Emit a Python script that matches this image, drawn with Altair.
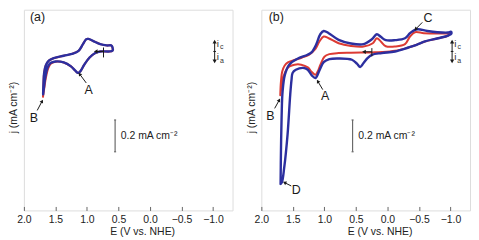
import altair as alt
import pandas as pd

FONT = "Liberation Sans"

# ---------------- data (E in V vs. NHE, j in mA cm^-2) ----------------
a_blue_E = [1.695, 1.690, 1.679, 1.653, 1.605, 1.526, 1.368, 1.237, 1.132, 1.063, 1.011, 0.974, 0.905,
            0.789, 0.684, 0.616, 0.595, 0.595, 0.658, 0.789, 0.868, 0.958, 1.042, 1.105, 1.142, 1.184,
            1.253, 1.368, 1.500, 1.579, 1.621, 1.658, 1.684, 1.695]
a_blue_j = [-0.270, -0.208, -0.135, -0.088, -0.058, -0.042, -0.027, -0.015, 0.004, 0.046, 0.077, 0.079, 0.067,
            0.046, 0.038, 0.038, 0.027, 0.004, 0.000, 0.000, -0.010, -0.038, -0.083, -0.125, -0.135, -0.121,
            -0.094, -0.069, -0.063, -0.073, -0.098, -0.156, -0.233, -0.270]

a_red_E = [1.697, 1.690, 1.679, 1.653, 1.605, 1.526, 1.368, 1.237, 1.132, 1.063, 1.011, 0.974, 0.905,
           0.789, 0.684, 0.616, 0.597, 0.597, 0.658, 0.789, 0.868, 0.958, 1.042, 1.105, 1.142, 1.184,
           1.253, 1.368, 1.500, 1.574, 1.612, 1.650, 1.680, 1.697]
a_red_j = [-0.285, -0.208, -0.135, -0.088, -0.058, -0.042, -0.027, -0.015, 0.004, 0.046, 0.077, 0.079, 0.067,
           0.046, 0.038, 0.038, 0.027, 0.004, 0.000, 0.000, -0.010, -0.038, -0.083, -0.125, -0.135, -0.121,
           -0.094, -0.069, -0.065, -0.077, -0.104, -0.163, -0.240, -0.285]

b_blue_E = [1.695, 1.689, 1.679, 1.663, 1.626, 1.558, 1.426, 1.268, 1.200, 1.132, 1.063, 1.011, 0.932,
            0.774, 0.579, 0.379, 0.247, 0.168, 0.105, 0.026, -0.121, -0.279, -0.358, -0.421, -0.484,
            -0.632, -0.789, -0.963, -1.005, -1.016, -0.963, -0.805, -0.595, -0.463, -0.332, -0.121,
            0.089, 0.247, 0.316, 0.379, 0.432, 0.484, 0.563, 0.774, 0.921, 1.011, 1.079, 1.142, 1.200,
            1.263, 1.321, 1.453, 1.505, 1.521, 1.542, 1.584, 1.637, 1.674, 1.695]
b_blue_j = [-0.833, -0.625, -0.417, -0.250, -0.146, -0.083, -0.046, -0.021, -0.004, 0.042, 0.110, 0.129, 0.115,
            0.073, 0.050, 0.046, 0.077, 0.108, 0.092, 0.071, 0.071, 0.083, 0.115, 0.133, 0.140,
            0.129, 0.121, 0.119, 0.125, 0.113, 0.100, 0.083, 0.063, 0.042, 0.025, 0.000,
            -0.010, -0.021, -0.042, -0.073, -0.098, -0.077, -0.052, -0.044, -0.048, -0.067, -0.119, -0.167, -0.150,
            -0.115, -0.104, -0.115, -0.135, -0.177, -0.271, -0.521, -0.729, -0.823, -0.833]

b_red_E = [1.700, 1.689, 1.668, 1.632, 1.579, 1.474, 1.353, 1.247, 1.142, 1.079, 1.011, 0.932, 0.774,
           0.579, 0.379, 0.232, 0.168, 0.105, 0.026, -0.121, -0.279, -0.358, -0.437, -0.579, -0.789,
           -0.963, -1.000, -0.963, -0.805, -0.595, -0.463, -0.332, -0.121, 0.089, 0.247, 0.579, 0.774,
           0.921, 1.000, 1.063, 1.105, 1.142, 1.200, 1.263, 1.368, 1.474, 1.553, 1.605, 1.647, 1.679, 1.700]
b_red_j = [-0.275, -0.188, -0.125, -0.090, -0.069, -0.054, -0.038, -0.021, 0.017, 0.063, 0.094, 0.083, 0.052,
           0.035, 0.031, 0.052, 0.083, 0.063, 0.033, 0.031, 0.046, 0.094, 0.121, 0.115, 0.113,
           0.115, 0.119, 0.100, 0.083, 0.063, 0.042, 0.025, 0.004, -0.004, -0.006, -0.008, -0.010,
           -0.017, -0.033, -0.083, -0.125, -0.146, -0.129, -0.100, -0.083, -0.083, -0.094, -0.115, -0.156, -0.219, -0.275]

x_ticks = [2.0, 1.5, 1.0, 0.5, 0.0, -0.5, -1.0]
x_domain = [-1.31, 2.0]
y_domain = [-1.0, 0.2625]

# annotations
a_labels = ["(a)", "A", "B"]
a_label_E = [1.784, 0.974, 1.842]
a_label_j = [0.219, -0.240, -0.417]
a_tail_E = [1.011, 1.789]
a_tail_j = [-0.198, -0.371]
a_head_E = [1.116, 1.711]
a_head_j = [-0.142, -0.3125]
a_angle = [323.5, 28.0]
a_scan = dict(tick_E=0.737, head_E=0.860, j=0.0, top=0.025, bot=-0.0375)

b_labels = ["(b)", "A", "B", "C", "D"]
b_label_E = [1.763, 0.989, 1.858, -0.642, 1.447]
b_label_j = [0.219, -0.281, -0.406, 0.208, -0.869]
b_tail_E = [1.026, 1.789, -0.553, 1.526]
b_tail_j = [-0.240, -0.358, 0.183, -0.846]
b_head_E = [1.105, 1.716, -0.447, 1.632]
b_head_j = [-0.1875, -0.306, 0.140, -0.825]
b_angle = [329.0, 29.0, 223.6, 296.6]
b_scan = dict(tick_E=0.247, head_E=0.372, j=-0.002, top=0.021, bot=-0.031)

scale_E = 0.553
scale_top = -0.431
scale_bot = -0.631
scale_cap = 0.016
scale_text = "0.2 mA cm⁻²"
scale_text_E = 0.463
scale_text_j = -0.531

ind_E = -1.026
ind_top = 0.062
ind_bot = -0.062
ind_cap = 0.021
ind_i_E = -1.079
ind_sub_E = -1.140
ind_i_j = [0.044, -0.038]
ind_sub_j = [0.028, -0.058]
ind_sub = ["c", "a"]

BLUE = "#2c2f9f"
RED = "#dc3b34"
INK = "#1a1a1a"

xscale = alt.Scale(domain=x_domain, reverse=True, nice=False, zero=False)
yscale = alt.Scale(domain=y_domain, nice=False, zero=False)
xaxis = alt.Axis(values=x_ticks, format=".1f", title="E (V vs. NHE)", offset=-4, tickSize=4,
                 labelPadding=4, domain=False, grid=False, tickColor="#666", tickWidth=1,
                 labelColor="#222", labelFont=FONT, labelFontSize=10.5, labelFlush=False,
                 labelOverlap=False, titleFont=FONT, titleFontSize=10.5, titleFontWeight="normal",
                 titleColor="#222", titlePadding=2, titleX=119)
yaxis = alt.Axis(title="j (mA cm⁻²)", labels=False, ticks=False, domain=False, grid=False,
                 titleFont=FONT, titleFontSize=10.5, titleFontWeight="normal", titleColor="#222",
                 titlePadding=5, titleY=98)


def X(f):
    return alt.X(f"{f}:Q", scale=xscale, axis=xaxis)


def Y(f):
    return alt.Y(f"{f}:Q", scale=yscale, axis=yaxis)


def curve(E, j, color, width):
    df = pd.DataFrame({"E": E, "j": j, "k": list(range(len(E)))})
    return alt.Chart(df).mark_line(color=color, strokeWidth=width, interpolate="catmull-rom",
                                   strokeJoin="round", strokeCap="round").encode(
        x=X("E"), y=Y("j"), order="k:Q")


def panel(blue_E, blue_j, red_E, red_j, labels, lab_E, lab_j, tail_E, tail_j, head_E, head_j, ang, scan):
    layers = [curve(red_E, red_j, RED, 2.0), curve(blue_E, blue_j, BLUE, 2.4)]

    lab_df = pd.DataFrame({"E": lab_E, "j": lab_j, "t": labels})
    layers.append(alt.Chart(lab_df).mark_text(font=FONT, fontSize=12.5, color=INK, align="center",
                                              baseline="middle").encode(x=X("E"), y=Y("j"), text="t:N"))

    arr_df = pd.DataFrame({"E": tail_E, "j": tail_j, "E2": head_E, "j2": head_j, "ang": ang})
    layers.append(alt.Chart(arr_df).mark_rule(color=INK, strokeWidth=1).encode(
        x=X("E"), y=Y("j"), x2="E2:Q", y2="j2:Q"))
    layers.append(alt.Chart(arr_df).mark_point(shape="triangle-up", filled=True, size=16, color=INK,
                                               opacity=1).encode(
        x=X("E2"), y=Y("j2"), angle=alt.Angle("ang:Q", scale=None)))

    # scan direction arrow
    scan_df = pd.DataFrame({"E": [scan["tick_E"]], "E2": [scan["head_E"]], "j": [scan["j"]],
                            "jt": [scan["top"]], "jb": [scan["bot"]]})
    layers.append(alt.Chart(scan_df).mark_rule(color=INK, strokeWidth=1).encode(
        x=X("E"), x2="E2:Q", y=Y("j")))
    layers.append(alt.Chart(scan_df).mark_rule(color=INK, strokeWidth=1).encode(
        x=X("E"), y=Y("jt"), y2="jb:Q"))
    layers.append(alt.Chart(scan_df).mark_point(shape="triangle-left", filled=True, size=18, color=INK,
                                                opacity=1).encode(x=X("E2"), y=Y("j")))

    # scale bar
    sb_df = pd.DataFrame({"E": [scale_E], "jt": [scale_top], "jb": [scale_bot]})
    cap_df = pd.DataFrame({"E": [scale_E - scale_cap] * 2, "E2": [scale_E + scale_cap] * 2,
                           "j": [scale_top, scale_bot]})
    layers.append(alt.Chart(sb_df).mark_rule(color="#6a6a6a", strokeWidth=1.2).encode(
        x=X("E"), y=Y("jt"), y2="jb:Q"))
    layers.append(alt.Chart(cap_df).mark_rule(color="#6a6a6a", strokeWidth=1.2).encode(
        x=X("E"), x2="E2:Q", y=Y("j")))
    st_df = pd.DataFrame({"E": [scale_text_E], "j": [scale_text_j], "t": [scale_text]})
    layers.append(alt.Chart(st_df).mark_text(font=FONT, fontSize=10.5, color="#222", align="left",
                                             baseline="middle").encode(x=X("E"), y=Y("j"), text="t:N"))

    # i_c / i_a indicator
    ind_df = pd.DataFrame({"E": [ind_E], "jt": [ind_top], "jb": [ind_bot]})
    layers.append(alt.Chart(ind_df).mark_rule(color=INK, strokeWidth=1).encode(
        x=X("E"), y=Y("jt"), y2="jb:Q"))
    ic_df = pd.DataFrame({"E": [ind_E - ind_cap], "E2": [ind_E + ind_cap], "j": [0.0]})
    layers.append(alt.Chart(ic_df).mark_rule(color=INK, strokeWidth=1).encode(
        x=X("E"), x2="E2:Q", y=Y("j")))
    heads_df = pd.DataFrame({"E": [ind_E, ind_E], "j": [ind_top, ind_bot], "ang": [0, 180]})
    layers.append(alt.Chart(heads_df).mark_point(shape="triangle-up", filled=True, size=18, color=INK,
                                                 opacity=1).encode(
        x=X("E"), y=Y("j"), angle=alt.Angle("ang:Q", scale=None)))
    ii_df = pd.DataFrame({"E": [ind_i_E] * 2, "j": ind_i_j, "t": ["i", "i"]})
    layers.append(alt.Chart(ii_df).mark_text(font=FONT, fontSize=10, color="#333", align="center",
                                             baseline="middle").encode(x=X("E"), y=Y("j"), text="t:N"))
    sub_df = pd.DataFrame({"E": [ind_sub_E] * 2, "j": ind_sub_j, "t": ind_sub})
    layers.append(alt.Chart(sub_df).mark_text(font=FONT, fontSize=7, color="#333", align="center",
                                              baseline="middle").encode(x=X("E"), y=Y("j"), text="t:N"))

    return alt.layer(*layers).properties(width=210, height=202)


pa = panel(a_blue_E, a_blue_j, a_red_E, a_red_j, a_labels, a_label_E, a_label_j,
           a_tail_E, a_tail_j, a_head_E, a_head_j, a_angle, a_scan)
pb = panel(b_blue_E, b_blue_j, b_red_E, b_red_j, b_labels, b_label_E, b_label_j,
           b_tail_E, b_tail_j, b_head_E, b_head_j, b_angle, b_scan)

chart = alt.hconcat(pa, pb, spacing=29, bounds="flush").properties(padding=0).configure_view(
    stroke="#808080", strokeWidth=1).configure(background="white")

chart.save("out.html", embed_options={"renderer": "svg", "actions": False})
